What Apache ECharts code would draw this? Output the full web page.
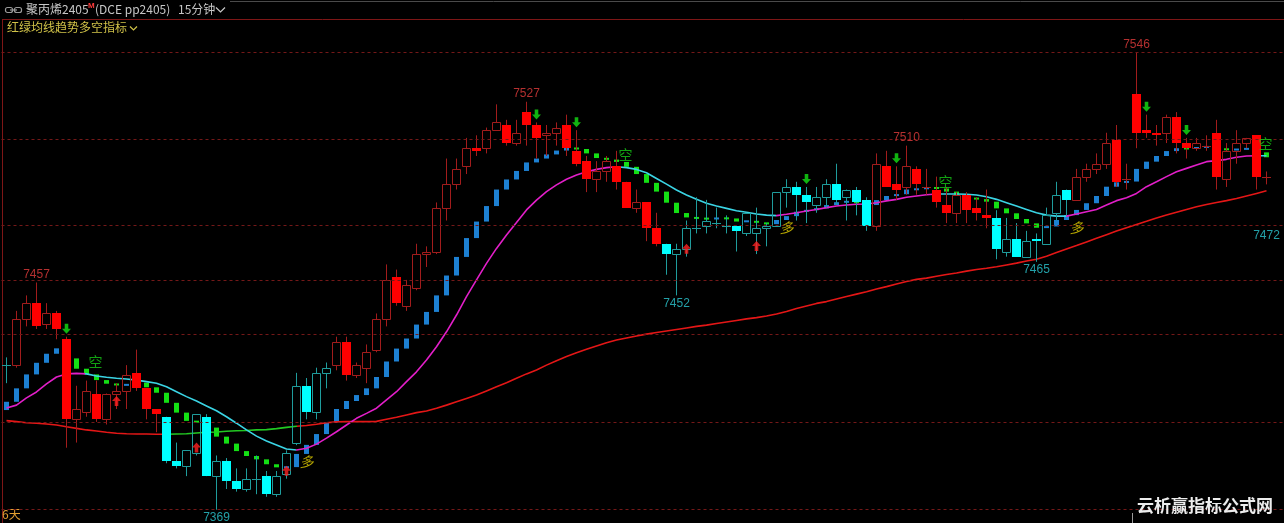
<!DOCTYPE html>
<html><head><meta charset="utf-8">
<script src="https://cdn.jsdelivr.net/npm/echarts/dist/echarts.min.js"></script>
<style>html,body{margin:0;padding:0;background:#000;}#c{width:1284px;height:523px;}</style>
</head><body><div id="c"></div>
<script>
// ---- DATA (prices) ----
// each bar: [open, close, low, high]
const candles = [
[7425,7425,7418,7428],[7425,7443,7424,7446],[7443,7449,7440,7452],[7449,7440,7439,7457],[7441,7445,7439,7449],
[7445,7439,7435,7446],[7435,7404,7393,7436],[7404,7408,7395,7417],[7407,7415,7405,7419],[7414,7404,7403,7419],
[7404,7414,7402,7414],[7414,7415,7408,7418],[7415,7421,7408,7425],[7422,7416,7415,7431],[7416,7408,7404,7416],
[7408,7406,7399,7408],[7405,7388,7387,7405],[7388,7386,7385,7395],[7386,7392,7382,7392],[7391,7406,7390,7406],
[7405,7382,7382,7406],[7382,7388,7369,7390],[7388,7380,7377,7389],[7380,7377,7376,7385],[7377,7381,7376,7385],
[7381,7381,7375,7390],[7382,7375,7374,7384],[7375,7382,7374,7384],[7383,7391,7381,7392],[7395,7417,7394,7422],
[7417,7407,7404,7420],[7407,7422,7404,7424],[7422,7424,7416,7426],[7425,7434,7423,7436],[7434,7421,7419,7436],
[7421,7425,7420,7426],[7424,7430,7418,7433],[7431,7443,7430,7445],[7443,7458,7440,7464],[7459,7449,7448,7462],
[7448,7456,7446,7458],[7455,7468,7454,7472],[7468,7469,7463,7471],[7469,7486,7468,7488],[7486,7495,7481,7505],
[7495,7501,7493,7505],[7502,7509,7499,7513],[7509,7508,7506,7514],[7509,7516,7507,7517],[7516,7519,7516,7526],
[7518,7511,7510,7520],[7511,7515,7510,7520],[7523,7518,7510,7527],[7518,7513,7505,7519],[7514,7515,7506,7518],
[7515,7517,7510,7519],[7518,7509,7506,7522],[7508,7503,7502,7516],[7504,7497,7492,7506],[7497,7500,7492,7504],
[7500,7504,7496,7506],[7502,7496,7493,7508],[7496,7486,7486,7496],[7486,7488,7484,7493],[7488,7478,7473,7488],
[7478,7472,7471,7484],[7472,7468,7460,7472],[7468,7470,7452,7472],[7470,7478,7467,7481],[7478,7478,7476,7490],
[7479,7481,7476,7489],[7480,7480,7478,7486],[7479,7479,7476,7483],[7479,7477,7469,7479],[7476,7484,7475,7484],
[7476,7478,7468,7486],[7478,7479,7471,7480],[7479,7492,7479,7492],[7492,7494,7486,7497],[7494,7491,7481,7496],
[7491,7488,7480,7494],[7487,7490,7484,7494],[7490,7495,7486,7497],[7495,7489,7487,7503],[7490,7493,7481,7493],
[7493,7488,7483,7494],[7489,7479,7477,7490],[7479,7503,7477,7507],[7502,7494,7494,7508],[7495,7493,7489,7502],
[7494,7502,7491,7510],[7501,7495,7491,7502],[7494,7494,7491,7501],[7493,7488,7486,7498],[7487,7484,7480,7494],
[7484,7491,7480,7492],[7491,7485,7480,7492],[7486,7484,7481,7490],[7483,7482,7478,7493],[7482,7470,7466,7485],
[7469,7474,7467,7482],[7474,7467,7467,7480],[7467,7473,7467,7477],[7474,7473,7465,7476],[7472,7483,7472,7486],
[7484,7491,7481,7496],[7493,7489,7483,7493],[7489,7498,7489,7501],[7498,7501,7496,7503],[7501,7503,7499,7507],
[7503,7511,7501,7515],[7512,7496,7494,7518],[7497,7497,7493,7503],[7530,7515,7509,7546],[7516,7515,7513,7522],
[7515,7514,7510,7518],[7515,7521,7511,7522],[7521,7511,7507,7523],[7511,7509,7505,7513],[7509,7511,7508,7513],
[7510,7510,7508,7514],[7515,7498,7493,7520],[7497,7508,7494,7511],[7508,7511,7503,7516],[7511,7513,7509,7513],
[7514,7498,7493,7514],[7498,7498,7495,7500]
];
const maShort = [
7408.4,7409.5,7412.3,7414.6,7417.7,7420.4,7421.6,7421.8,7421.6,7420.8,
7420.3,7419.9,7419.6,7419.2,7418.6,7418.0,7416.6,7414.7,7412.8,7411.1,
7409.2,7407.3,7405.0,7402.5,7399.9,7397.5,7395.6,7394.1,7392.5,7392.1,
7392.8,7394.4,7396.7,7399.2,7401.8,7404.4,7406.3,7408.3,7411.5,7414.7,
7418.6,7422.4,7427.0,7432.1,7437.9,7444.4,7451.5,7458.0,7464.4,7470.2,
7475.4,7480.2,7485.1,7488.9,7492.2,7494.8,7497.0,7498.6,7499.9,7500.8,
7501.5,7501.8,7501.5,7500.8,7499.5,7497.3,7495.1,7492.8,7490.9,7489.2,
7487.7,7486.6,7485.7,7484.8,7484.2,7483.5,7483.1,7482.9,7483.4,7484.0,
7484.7,7485.3,7486.0,7486.6,7487.0,7487.3,7487.4,7487.9,7488.6,7489.2,
7490.0,7490.5,7491.0,7491.3,7491.3,7491.3,7491.2,7490.9,7490.2,7489.2,
7487.9,7486.6,7485.3,7484.0,7483.1,7482.7,7482.7,7483.5,7484.4,7485.3,
7487.0,7488.7,7489.8,7491.5,7494.1,7496.0,7498.0,7499.9,7501.2,7502.5,
7503.8,7504.2,7504.7,7505.5,7506.0,7506.1,7506.1
];
const maLong = [
7403.5,7403.1,7402.7,7402.5,7402.2,7401.8,7401.1,7400.5,7399.9,7399.5,
7399.0,7398.6,7398.4,7398.3,7398.3,7398.2,7398.2,7398.3,7398.4,7398.7,
7399.0,7399.1,7399.4,7399.6,7399.7,7399.9,7400.0,7400.4,7400.9,7401.3,
7401.6,7402.1,7402.7,7403.0,7403.1,7403.1,7403.1,7403.2,7404.0,7404.8,
7405.7,7406.6,7407.2,7408.3,7409.5,7410.8,7412.1,7413.4,7415.0,7416.6,
7418.2,7419.9,7421.6,7423.1,7425.0,7426.7,7428.3,7429.8,7431.1,7432.4,
7433.7,7434.7,7435.5,7436.3,7437.0,7437.6,7438.2,7438.8,7439.4,7440.0,
7440.5,7441.1,7441.7,7442.3,7442.9,7443.4,7444.0,7444.8,7445.8,7446.9,
7447.9,7448.9,7449.6,7450.6,7451.6,7452.5,7453.4,7454.5,7455.4,7456.4,
7457.4,7458.2,7458.7,7459.4,7460.1,7460.7,7461.4,7462.0,7462.5,7463.1,
7463.8,7464.5,7465.3,7466.0,7467.2,7468.6,7470.0,7471.3,7472.7,7474.1,
7475.5,7476.9,7478.2,7479.5,7480.7,7482.0,7483.1,7484.2,7485.3,7486.3,
7487.2,7488.0,7488.7,7489.5,7490.5,7491.5,7492.5
];
const stopStart = 7407.6;
const stopLine = [
7410.8,7416.0,7421.4,7425.9,7429.4,7431.5,7427.6,7423.6,7421.4,7419.2,
7417.8,7417.2,7417.5,7418.2,7416.4,7414.3,7410.4,7406.6,7403.4,7402.8,
7400.8,7397.3,7394.6,7391.7,7389.8,7388.5,7386.6,7385.4,7385.5,7390.6,
7394.1,7398.3,7402.7,7408.0,7411.1,7413.4,7416.0,7420.4,7426.4,7431.4,
7435.3,7440.7,7445.6,7452.0,7459.7,7466.9,7474.2,7480.6,7486.6,7493.0,
7496.9,7500.2,7503.5,7505.0,7506.6,7508.1,7509.1,7508.7,7507.0,7505.2,
7504.6,7503.7,7501.8,7499.0,7495.6,7492.2,7487.9,7483.9,7482.2,7481.8,
7481.7,7481.9,7481.8,7480.6,7480.8,7480.2,7479.6,7481.2,7482.7,7484.4,
7485.1,7485.7,7487.0,7488.1,7488.4,7487.8,7487.0,7488.9,7490.5,7491.2,
7493.0,7493.2,7493.8,7493.4,7492.2,7490.9,7489.7,7489.3,7488.3,7485.7,
7483.8,7481.6,7479.9,7478.2,7478.7,7481.2,7483.1,7485.1,7487.7,7490.5,
7494.1,7495.8,7496.1,7501.0,7503.8,7506.0,7507.9,7509.0,7508.8,7509.4,
7509.6,7508.9,7508.3,7508.7,7508.8,7507.4,7505.5
];
const cyanBars = [[0,0],[16,32],[66,86],[99,106]];
const shortDownRanges = [[7.8,29],[61.2,77],[93,106],[125,127]];
const longGreenRanges = [[16,29]];
const sellArrows = [6,53,57,80,89,114,118];
const buyArrows = [11,19,28,68,75];
const kongMarks = [8,61,93,125];
const duoMarks = [29,77,106];
const peakLabels = [[3,7457],[52,7527],[90,7510],[113,7546]];
const troughLabels = [[21,7369],[67,7452],[103,7465]];
const edgeLabels = [[126,7472]];
const gridLevels = [7546,7512.5,7479,7458,7437,7403,7369.3];
const priceMin = 7369, priceMax = 7546;

// ---- STYLE ----
const COL = {
  redFill:'#ff0000', redEdge:'#a21c1c', cyanFill:'#00ffff', cyanEdge:'#1f9c9c',
  blue:'#1d80d2', green:'#14e014', magenta:'#e21ec8', cyanMa:'#3ad4e4',
  longRed:'#e41616', longGreen:'#22c822', grid:'#741818', frame:'#7e1616',
  peak:'#e23c3c', trough:'#2cc8d2', kong:'#16c816', duo:'#e6d200',
  title:'#c6c6c6', ind:'#d0c248'
};
const inRanges = (i, rs) => rs.some(r => i >= r[0] && i <= r[1]);

function candleItem(params, api) {
  const i = api.value(0), o = api.value(1), c = api.value(2), l = api.value(3), h = api.value(4);
  const cyan = inRanges(i, cyanBars);
  const fill = cyan ? COL.cyanFill : COL.redFill;
  const edge = cyan ? COL.cyanEdge : COL.redEdge;
  const pO = api.coord([i, o]);
  const yC = api.coord([i, c])[1], yH = api.coord([i, h])[1], yL = api.coord([i, l])[1];
  const X = Math.round(pO[0] - 0.5) + 0.5;
  const half = Math.round(api.size([1, 0])[0] * 0.4);
  const top = Math.min(pO[1], yC), bot = Math.max(pO[1], yC);
  const ln = (x1, y1, x2, y2, col) => ({type:'line', shape:{x1,y1,x2,y2}, style:{stroke:col, lineWidth:1}});
  const ch = [];
  if (c > o) {
    const t = Math.round(top) + 0.5, b = Math.round(bot) + 0.5;
    if (yH < t) ch.push(ln(X, yH, X, t, edge));
    if (yL > b) ch.push(ln(X, b, X, yL, edge));
    ch.push({type:'rect', shape:{x:X - half, y:t, width:2 * half, height:Math.max(1, b - t)},
             style:{fill:'transparent', stroke:edge, lineWidth:1}});
  } else if (c < o) {
    ch.push(ln(X, yH, X, yL, edge));
    const t = Math.round(top), b = Math.round(bot);
    ch.push({type:'rect', shape:{x:X - half - 0.5, y:t, width:2 * half + 1, height:Math.max(1, b - t)},
             style:{fill:fill}});
  } else {
    ch.push(ln(X, yH, X, yL, edge));
    const t = Math.round(top) + 0.5;
    ch.push(ln(X - half - 0.5, t, X + half + 0.5, t, edge));
  }
  return {type:'group', children:ch};
}

function stopItem(params, api) {
  const i = api.value(0), prev = api.value(1), cur = api.value(2);
  const p0 = api.coord([i, prev]), p1 = api.coord([i, cur]);
  let y0 = Math.min(p0[1], p1[1]), y1 = Math.max(p0[1], p1[1]);
  if (y1 - y0 < 2) { const m = (y0 + y1) / 2; y0 = m - 1; y1 = m + 1; }
  const X = Math.round(p0[0] - 0.5) + 0.5;
  return {type:'rect', shape:{x:X - 2.5, y:y0, width:5, height:y1 - y0},
          style:{fill: cur >= prev ? COL.blue : COL.green}};
}

const candleData = candles.map((k, i) => [i, k[0], k[1], k[2], k[3]]);
const stopData = stopLine.map((v, i) => [i, i === 0 ? stopStart : stopLine[i - 1], v]);
const pairs = arr => arr.map((v, i) => [i, v]);
const numFont = 'Liberation Sans, Arial, sans-serif';
const cjkFont = 'Noto Sans CJK SC, sans-serif';

const option = {
  backgroundColor:'#000',
  animation:false,
  grid:{left:1.5, right:0, top:52.7, bottom:13.3},
  xAxis:{type:'value', min:-0.5, max:127.75, show:false},
  yAxis:{type:'value', min:priceMin, max:priceMax, show:false},
  visualMap:[
    {show:false, type:'piecewise', seriesIndex:3, dimension:0,
     pieces: shortDownRanges.map(r => ({gte:r[0], lte:r[1], color:COL.cyanMa})),
     outOfRange:{color:COL.magenta}},
    {show:false, type:'piecewise', seriesIndex:2, dimension:0,
     pieces: longGreenRanges.map(r => ({gte:r[0], lte:r[1], color:COL.longGreen})),
     outOfRange:{color:COL.longRed}}
  ],
  series:[
    {type:'line', data:[], silent:true,
     markLine:{silent:true, symbol:['none','none'], label:{show:false},
       lineStyle:{color:COL.grid, type:[3,3], width:1},
       data: gridLevels.map(v => ({yAxis:v}))}},
    {type:'custom', renderItem:stopItem, data:stopData, clip:false, encode:{x:0, y:[1,2]}, silent:true},
    {type:'line', data:pairs(maLong), showSymbol:false, lineStyle:{width:1.6}, silent:true, z:3},
    {type:'line', data:pairs(maShort), showSymbol:false, lineStyle:{width:1.6}, silent:true, z:3},
    {type:'custom', renderItem:candleItem, data:candleData, clip:false, encode:{x:0, y:[1,2,3,4]}, silent:true, z:4},
    {type:'scatter', data: sellArrows.map(i => [i, candles[i][3]]), z:5, silent:true,
     symbol:'path://M3,0L7,0L7,5L10,5L5,10L0,5L3,5Z', symbolSize:[9,10], symbolOffset:[0,-8],
     itemStyle:{color:COL.green}},
    {type:'scatter', data: buyArrows.map(i => [i, candles[i][2]]), z:5, silent:true,
     symbol:'path://M5,0L10,5L7,5L7,10L3,10L3,5L0,5Z', symbolSize:[9,10], symbolOffset:[0,-8],
     itemStyle:{color:'#ff2020'}},
    {type:'scatter', data: kongMarks.map(i => [i, maShort[i]]), symbolSize:0, z:6, silent:true,
     label:{show:true, formatter:'空', position:[2,-5], align:'left', verticalAlign:'bottom',
       color:COL.kong, fontSize:14, fontFamily:cjkFont}},
    {type:'scatter', data: duoMarks.map(i => [i, maShort[i]]), symbolSize:0, z:6, silent:true,
     label:{show:true, formatter:'多', position:[3,5], align:'left', verticalAlign:'top',
       color:COL.duo, fontSize:14, fontFamily:cjkFont, fontStyle:'italic'}},
    {type:'scatter', data: peakLabels, symbolSize:0, z:6, silent:true,
     label:{show:true, formatter:p => String(p.value[1]), position:[0,-8], align:'center', verticalAlign:'middle',
       color:COL.peak, fontSize:12, fontFamily:numFont}},
    {type:'scatter', data: troughLabels, symbolSize:0, z:6, silent:true,
     label:{show:true, formatter:p => String(p.value[1]), position:[0,8], align:'center', verticalAlign:'middle',
       color:COL.trough, fontSize:12, fontFamily:numFont}},
    {type:'scatter', data: edgeLabels, symbolSize:0, z:6, silent:true,
     label:{show:true, formatter:p => String(p.value[1]), position:[0,-8], align:'center', verticalAlign:'middle',
       color:COL.trough, fontSize:12, fontFamily:numFont}}
  ],
  graphic:[
    {type:'line', shape:{x1:230, y1:1.5, x2:1284, y2:1.5}, style:{stroke:'#4a4a4a', lineWidth:1}, silent:true},
    {type:'line', shape:{x1:2, y1:19.5, x2:1284, y2:19.5}, style:{stroke:COL.frame, lineWidth:1}, silent:true},
    {type:'line', shape:{x1:2.5, y1:19, x2:2.5, y2:523}, style:{stroke:COL.frame, lineWidth:1}, silent:true},
    {type:'rect', shape:{x:5.5, y:7.5, width:7, height:5, r:2}, style:{fill:'transparent', stroke:'#9a9a9a', lineWidth:1.2}},
    {type:'rect', shape:{x:14.5, y:7.5, width:7, height:5, r:2}, style:{fill:'transparent', stroke:'#9a9a9a', lineWidth:1.2}},
    {type:'line', shape:{x1:10, y1:10, x2:17, y2:10}, style:{stroke:'#9a9a9a', lineWidth:1.2}},
    {type:'text', left:26, top:3, style:{text:'聚丙烯2405', fill:COL.title, font:'12px '+cjkFont}},
    {type:'text', left:88, top:2, style:{text:'M', fill:'#ff3a3a', font:'bold 8px '+numFont}},
    {type:'text', left:95, top:3, style:{text:'(DCE pp2405)', fill:COL.title, font:'12px '+cjkFont}},
    {type:'text', left:178, top:3, style:{text:'15分钟', fill:COL.title, font:'12px '+cjkFont}},
    {type:'polyline', shape:{points:[[216,7.5],[220.5,12],[225,7.5]]}, style:{stroke:COL.title, lineWidth:1.2, fill:null}},
    {type:'text', left:7, top:21, style:{text:'红绿均线趋势多空指标', fill:COL.ind, font:'12px '+cjkFont}},
    {type:'polyline', shape:{points:[[130,26.5],[133.5,30],[137,26.5]]}, style:{stroke:COL.ind, lineWidth:1.2, fill:null}},
    {type:'text', left:2, top:508, style:{text:'6天', fill:'#e2a032', font:'12px '+cjkFont}},
    {type:'line', shape:{x1:1132.5, y1:513, x2:1132.5, y2:523}, style:{stroke:'#9a9a9a', lineWidth:1}},
    {type:'text', left:1137, top:497, z:100, style:{text:'云析赢指标公式网', fill:'#ececec', font:'bold 17px '+cjkFont}}
  ]
};
const chart = echarts.init(document.getElementById('c'));
chart.setOption(option);
</script>
</body></html>
